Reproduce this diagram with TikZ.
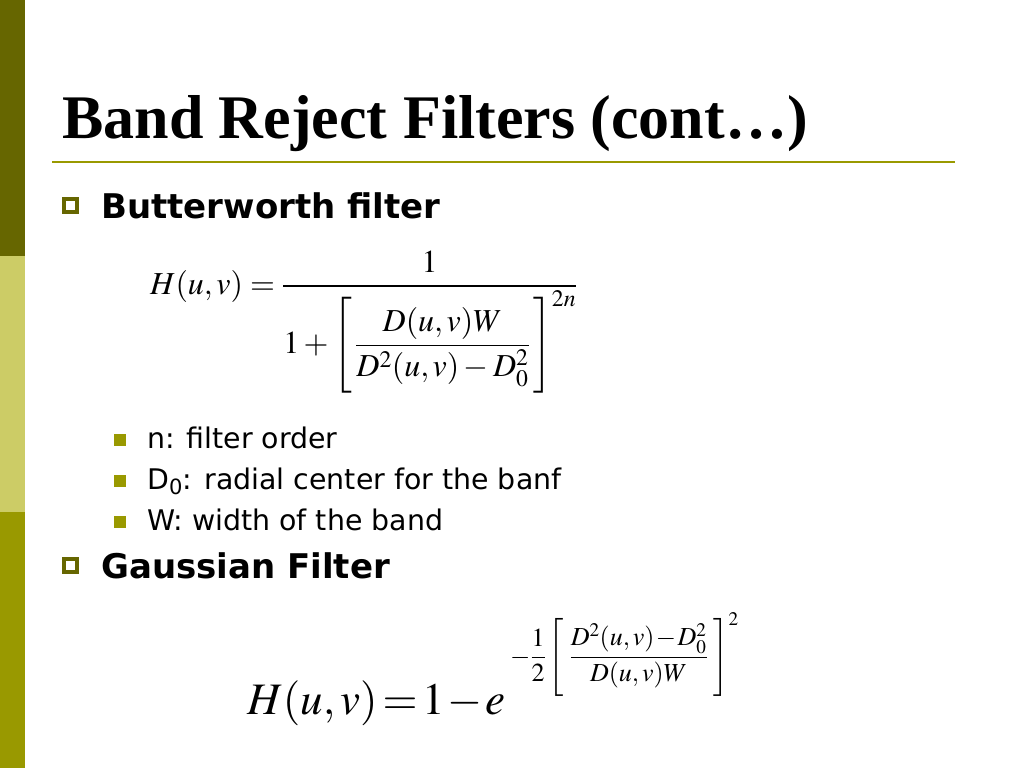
\documentclass[tikz,border=0pt]{standalone}
\usepackage{amsmath}
\usepackage{mathptmx}
\usepackage[no-math]{fontspec}
\setmainfont{Liberation Serif}
\newfontfamily\bulletfont{DejaVu Sans}
\usepackage{tikz}
\usetikzlibrary{positioning, calc}
\definecolor{olivedark}{HTML}{666600}
\definecolor{olivelight}{HTML}{CCCC66}
\definecolor{olivemid}{HTML}{999900}

\begin{document}
\begin{tikzpicture}[x=1pt,y=-1pt]
	\def \rowtitle{138}
	\def \rowbutter{218}
	\def \rowsubone{448}
	\def \rowsubtwo{489}
	\def \rowsubthree{530}
	\def \rowgauss{578}
	\tikzstyle{t-node}=[anchor=base west,inner sep=0pt]
	\tikzstyle{b-box}=[draw=olivedark,line width=4pt,minimum size=13pt,inner sep=0pt]
	\tikzstyle{s-box}=[fill=olivemid,minimum size=12pt,inner sep=0pt]
	\tikzstyle{b-lbl}=[t-node,font=\bulletfont\bfseries\fontsize{34}{40}\selectfont]
	\tikzstyle{s-lbl}=[t-node,font=\bulletfont\fontsize{28.4}{34}\selectfont]
	\useasboundingbox (0,0) rectangle (1024,768);

	% side bar
	\fill[olivedark] (0,0) rectangle (25,256);
	\fill[olivelight] (0,256) rectangle (25,512);
	\fill[olivemid] (0,512) rectangle (25,768);

	% title
	\node[t-node] (title) at (62,\rowtitle) {\fontsize{62}{70}\selectfont\bfseries Band Reject Filters (cont…)};
	\draw[olivemid, line width=2pt] (52,162) -- (955,162);

	% butterworth
	\node[b-box] (bx0) at (70.5,205.5) {};
	\node[b-lbl] (butter) at (101,\rowbutter) {Butterworth filter};
	\node[t-node] (hbw) at (150,294) {\fontsize{32}{38}\selectfont \medmuskip=2.5mu
		$H(u,v)=\dfrac{1}{1+\left[\mkern2mu\dfrac{D(u,v)W}{D^2(u,v)-D_0^2}\mkern2mu\right]^{2n}}$};

	% parameters
	\node[s-box] (sq0) at (120,440) {};
	\node[s-box] (sq1) at (120,481) {};
	\node[s-box] (sq2) at (120,522) {};
	\node[s-lbl] (par0) at (147,\rowsubone) {n: filter order};
	\node[s-lbl] (par1) at (147,\rowsubtwo) {D\textsubscript{0}: radial center for the banf};
	\node[s-lbl] (par2) at (147,\rowsubthree) {W: width of the band};

	% gaussian
	\node[b-box] (bx1) at (70.5,565.5) {};
	\node[b-lbl] (gauss) at (101,\rowgauss) {Gaussian Filter};
	\node[t-node] (hg) at (247,714) {\fontsize{45}{54}\selectfont
		\thickmuskip=2mu \medmuskip=1mu $H(u,v)=1-e$};
	\node[t-node] (hgexp) at (510,664) {\fontsize{26}{31}\selectfont
		\medmuskip=1mu $-\dfrac{1}{2}\left[\;\dfrac{D^2(u,v)-D_0^2}{D(u,v)W}\;\right]^2$};
\end{tikzpicture}
\end{document}
